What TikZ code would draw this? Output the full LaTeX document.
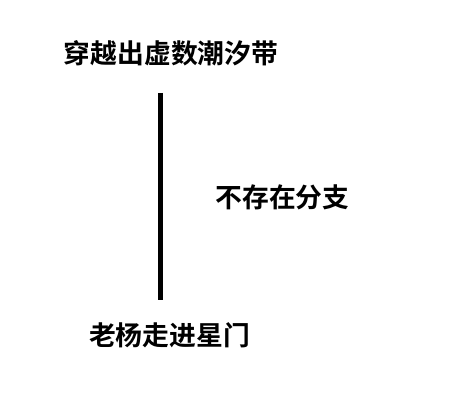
\documentclass[tikz,border=0pt]{standalone}
\usepackage{fontspec}
\newfontfamily\cjk{Noto Sans CJK SC Bold}
\begin{document}
\begin{tikzpicture}[x=1pt,y=1pt,
  lbl/.style={inner sep=0pt,anchor=center,font=\cjk\fontsize{26.8}{30}\selectfont},
  stem/.style={line width=5pt,black}]
\useasboundingbox[fill=white] (0,0) rectangle (474,405);
\node[lbl] (top) at (171,351.5) {穿越出虚数潮汐带};
\node[lbl] (mid) at (282.5,208) {不存在分支};
\node[lbl] (bot) at (169.5,70) {老杨走进星门};
\coordinate (p) at (160.5,312);
\coordinate (q) at (160.5,105);
\draw[stem] (p) -- (q);
\end{tikzpicture}
\end{document}
